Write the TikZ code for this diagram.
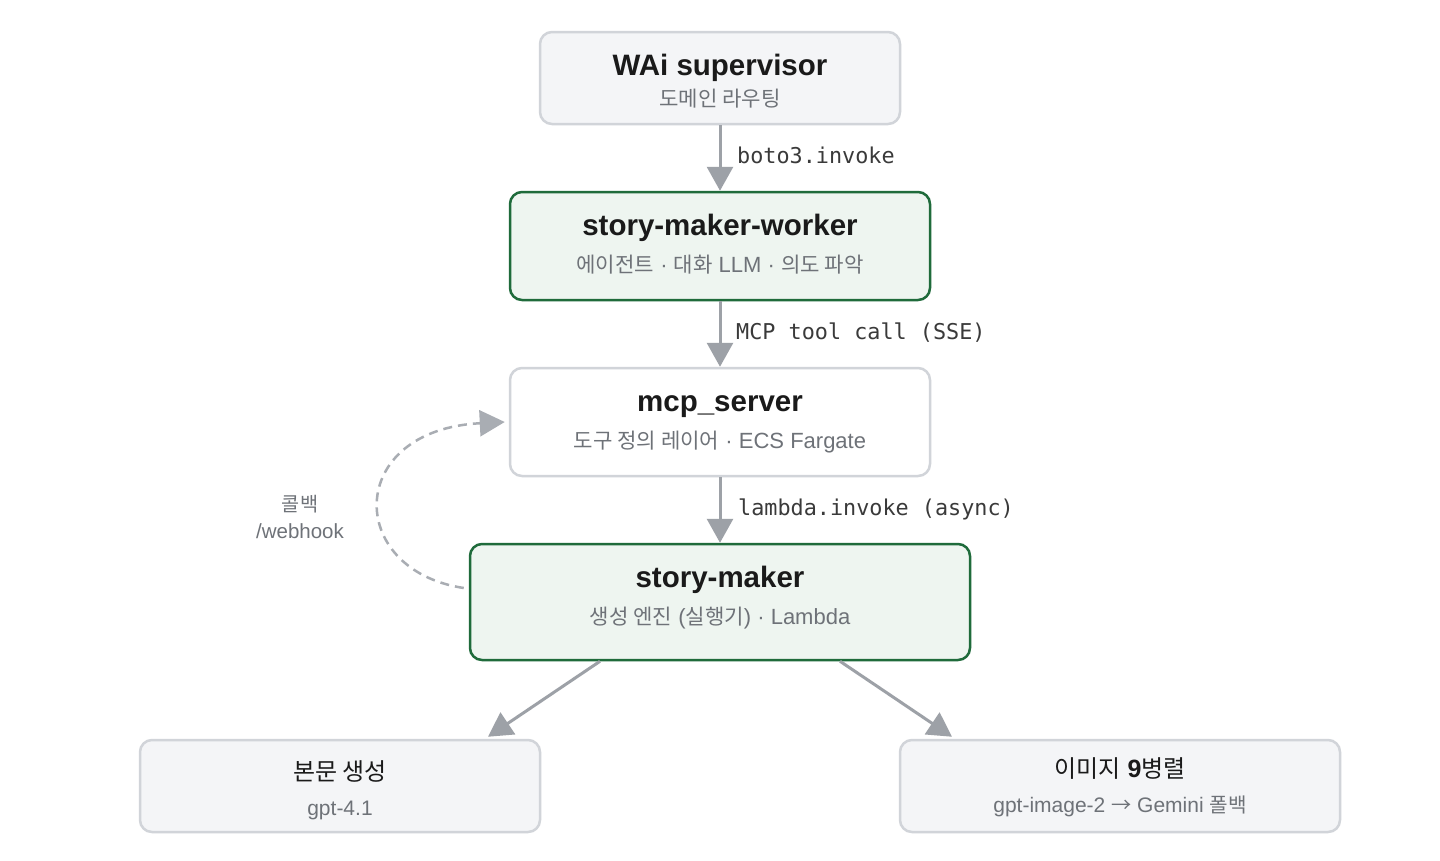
\documentclass[tikz,border=0pt]{standalone}
\usepackage{fontspec}
\setmainfont{Liberation Sans}
\newfontfamily\krfont[Scale=0.96]{Noto Sans CJK KR}
\newfontfamily\codefont{DejaVu Sans Mono}
\usetikzlibrary{arrows.meta,calc}
\definecolor{boxgray}{HTML}{F4F5F7}
\definecolor{bordergray}{HTML}{D1D4D9}
\definecolor{boxgreen}{HTML}{EEF5F0}
\definecolor{bordergreen}{HTML}{1F6B3B}
\definecolor{arrowgray}{HTML}{9DA1A7}
\definecolor{dashgray}{HTML}{A9ADB3}
\definecolor{subgray}{HTML}{6E7278}
\definecolor{titleblack}{HTML}{1A1A1A}
\definecolor{labeldark}{HTML}{3A3A3A}
\newcommand\kr[1]{{\krfont #1}}
\tikzset{
  box/.style={draw=bordergray, line width=2.5pt, rounded corners=12pt, fill=boxgray, inner sep=0pt},
  greenbox/.style={box, draw=bordergreen, fill=boxgreen},
  whitebox/.style={box, fill=white},
  ttl/.style={font=\fontsize{29.5}{34}\selectfont\bfseries, text=titleblack, anchor=base, inner sep=0pt},
  subt/.style={font=\fontsize{22}{26}\selectfont, text=subgray, anchor=base, inner sep=0pt},
  btitle/.style={font=\fontsize{25}{30}\selectfont, text=titleblack, anchor=base, inner sep=0pt},
  bsub/.style={font=\fontsize{21}{25}\selectfont, text=subgray, anchor=base, inner sep=0pt},
  flow/.style={draw=arrowgray, line width=3pt, -{Triangle[width=26pt,length=24pt]}},
  cb/.style={draw=dashgray, line width=2.5pt, dash pattern=on 9pt off 6pt, -{Triangle[width=26pt,length=25pt]}},
  elabel/.style={font=\codefont\fontsize{21.8}{26}\selectfont, text=labeldark, anchor=base west, inner sep=0pt},
  side/.style={font=\fontsize{20.5}{24}\selectfont, text=subgray, anchor=base, inner sep=0pt}
}
\begin{document}
\begin{tikzpicture}[x=1pt,y=-1pt]
\useasboundingbox[fill=white] (0,0) rectangle (1440,860);
% boxes
\node[box, minimum width=360pt, minimum height=92pt] (wai) at (720,78) {};
\node[greenbox, minimum width=420pt, minimum height=108pt] (worker) at (720,246) {};
\node[whitebox, minimum width=420pt, minimum height=108pt] (mcp) at (720,422) {};
\node[greenbox, minimum width=500pt, minimum height=116pt] (sm) at (720,602) {};
\node[box, minimum width=400pt, minimum height=92pt] (body) at (340,786) {};
\node[box, minimum width=440pt, minimum height=92pt] (img) at (1120,786) {};
% texts
\node[ttl] (waiT) at (720,75) {WAi supervisor};
\node[subt] (waiS) at (720,106) {\kr{도메인 라우팅}};
\node[ttl] (workerT) at (720,235) {story-maker-worker};
\node[subt] (workerS) at (720,272) {\kr{에이전트} · \kr{대화} LLM · \kr{의도 파악}};
\node[ttl] (mcpT) at (720,411) {mcp\_server};
\node[subt] (mcpS) at (720,448) {\kr{도구 정의 레이어} · ECS Fargate};
\node[ttl] (smT) at (720,587) {story-maker};
\node[subt] (smS) at (720,624) {\kr{생성 엔진} (\kr{실행기}) · Lambda};
\node[btitle] (bodyT) at (340,780) {\kr{본문 생성}};
\node[bsub] (bodyS) at (340,815) {gpt-4.1};
\node[btitle] (imgT) at (1120,777) {\kr{이미지} \textbf{9}\kr{병렬}};
\node[bsub] (imgS) at (1120,812) {gpt-image-2 \kr{→} Gemini \kr{폴백}};
% connectors
\draw[flow] (wai.south) -- (worker.north);
\draw[flow] (worker.south) -- (mcp.north);
\draw[flow] (mcp.south) -- (sm.north);
\draw[flow] ([xshift=-120pt]sm.south) -- ([xshift=148pt,yshift=2pt]body.north);
\draw[flow] ([xshift=120pt]sm.south) -- ([xshift=-168pt,yshift=2pt]img.north);
\coordinate (cbStart) at ([xshift=-5pt,yshift=14pt]sm.west);
\coordinate (cbEnd) at ([xshift=-4pt]mcp.west);
\draw[cb] (cbStart) .. controls (345,570) and (345,430) .. (cbEnd);
% edge labels
\node[elabel] (l1) at (737,163) {boto3.invoke};
\node[elabel] (l2) at (736,339) {MCP tool call (SSE)};
\node[elabel] (l3) at (738,515) {lambda.invoke (async)};
\node[side] (cbL1) at (300,511) {\kr{콜백}};
\node[side] (cbL2) at (300,538) {/webhook};
\end{tikzpicture}
\end{document}
